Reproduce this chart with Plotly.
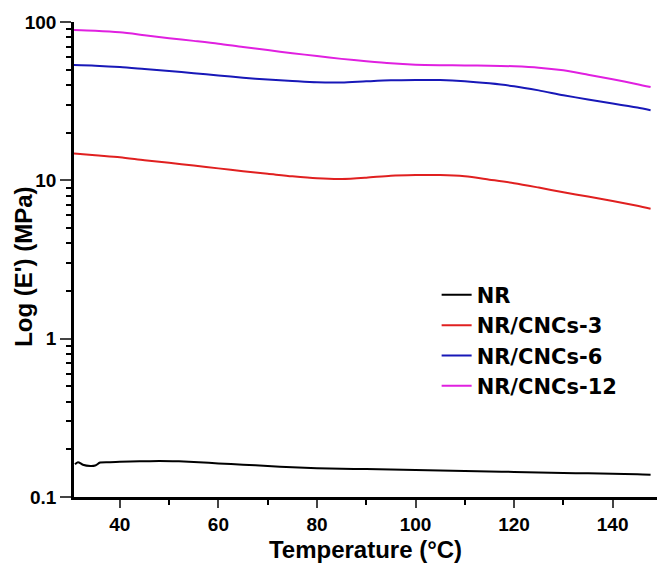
import plotly.graph_objects as go

# Temperature (°C) and storage modulus E' (MPa)
t_nr = [30.9, 31.5, 32.5, 34, 35, 36, 38, 40, 44, 48, 52, 56, 60, 65, 70, 75, 80, 85, 90, 95, 100,
        105, 110, 115, 120, 125, 130, 135, 140, 145, 147.7]
e_nr = [0.161, 0.166, 0.160, 0.157, 0.158, 0.165, 0.166, 0.167, 0.168, 0.169, 0.168, 0.166, 0.163,
        0.160, 0.157, 0.154, 0.152, 0.151, 0.150, 0.149, 0.148, 0.147, 0.146, 0.145, 0.144, 0.143,
        0.142, 0.141, 0.140, 0.139, 0.138]

t_c = [30.7, 35, 40, 45, 50, 55, 60, 65, 70, 75, 80, 85, 90, 95, 100, 105, 110, 115, 120, 125,
       130, 135, 140, 145, 147.7]
e_3 = [14.8, 14.4, 14.0, 13.4, 12.9, 12.4, 11.9, 11.4, 11.0, 10.6, 10.3, 10.2, 10.4, 10.7, 10.8,
       10.8, 10.6, 10.1, 9.6, 9.0, 8.4, 7.9, 7.4, 6.9, 6.62]
e_6 = [53.5, 53.0, 52.0, 50.5, 49.0, 47.5, 46.0, 44.5, 43.3, 42.4, 41.6, 41.5, 42.2, 42.8, 43.0,
       43.0, 42.3, 41.0, 39.3, 37.0, 34.5, 32.4, 30.6, 28.8, 27.7]
e_12 = [89.0, 88.0, 86.0, 82.5, 79.0, 76.0, 73.0, 69.5, 66.5, 63.5, 61.0, 58.5, 56.5, 54.8, 53.8,
        53.4, 53.2, 53.0, 52.5, 51.5, 49.5, 46.5, 43.5, 40.5, 38.8]

names = ["NR", "NR/CNCs-3", "NR/CNCs-6", "NR/CNCs-12"]
colors = ["#000000", "#e02020", "#1818b8", "#e020e0"]

xticks = [40, 60, 80, 100, 120, 140]
yticks = [0.1, 1, 10, 100]
yticklabels = ["0.1", "1", "10", "100"]

fig = go.Figure()
series = [(t_nr, e_nr), (t_c, e_3), (t_c, e_6), (t_c, e_12)]
for (x, y), n, c in zip(series, names, colors):
    fig.add_trace(go.Scatter(x=x, y=y, name=n, mode="lines",
                             line=dict(color=c, width=2, shape="spline", smoothing=0.8)))

ylminor = [m * d for d in (0.1, 1, 10) for m in range(2, 10)]

font_bold = dict(family="Liberation Sans, Arial", size=19, color="black", weight="bold")

fig.update_layout(
    width=657, height=564,
    margin=dict(l=74, r=0, t=22, b=67),
    plot_bgcolor="white", paper_bgcolor="white",
    showlegend=True,
    legend=dict(x=0.622, y=0.468, xanchor="left", yanchor="top",
                font=dict(family="DejaVu Sans", size=21, color="black", weight="bold"),
                bgcolor="rgba(0,0,0,0)", tracegroupgap=0, itemwidth=30),
    xaxis=dict(range=[30.7, 149], tickvals=xticks, ticks="outside", ticklen=8, tickwidth=2,
               showline=True, linewidth=2.5, linecolor="black", showgrid=False, zeroline=False,
               tickfont=font_bold,
               minor=dict(tickvals=[50, 70, 90, 110, 130], ticks="outside", ticklen=5,
                          tickwidth=2, tickcolor="black", showgrid=False),
               title=dict(text="Temperature (°C)", standoff=8,
                          font=dict(family="Liberation Sans, Arial", size=24, color="black", weight="bold"))),
    yaxis=dict(type="log", range=[-1, 2], tickvals=yticks, ticktext=yticklabels,
               ticks="outside", ticklen=11, tickwidth=2,
               showline=True, linewidth=2.5, linecolor="black", showgrid=False, zeroline=False,
               tickfont=font_bold,
               minor=dict(tickvals=ylminor, ticks="outside", ticklen=5, tickwidth=1.5,
                          tickcolor="black", showgrid=False)),
    annotations=[dict(text="Log (E') (MPa)", textangle=-90, xref="paper", yref="paper",
                      x=-0.088, y=0.484, xanchor="center", yanchor="middle", showarrow=False,
                      font=dict(family="Liberation Sans, Arial", size=24, color="black", weight="bold"))],
)

fig.write_html("out.html")
